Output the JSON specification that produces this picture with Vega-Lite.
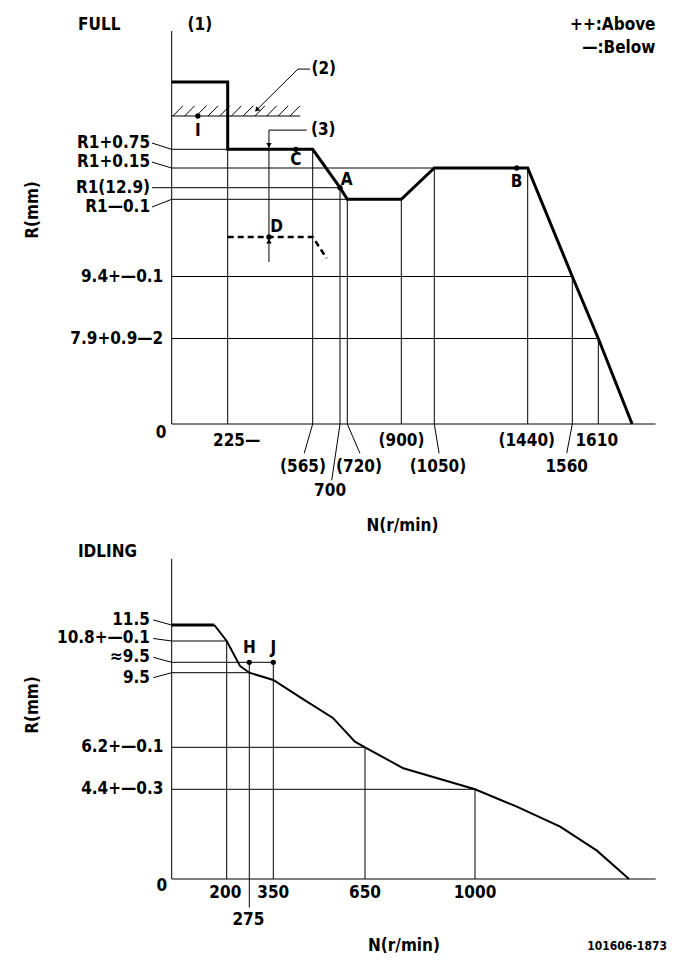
{
  "$schema": "https://vega.github.io/schema/vega-lite/v6.json",
  "width": 681,
  "height": 979,
  "autosize": {"type": "none"},
  "padding": 0,
  "background": "white",
  "config": {"view": {"stroke": null}},
  "datasets": {
    "tCurve": [
      {"i": 0, "n": 0, "r": 15.5}, {"i": 1, "n": 225, "r": 15.5}, {"i": 2, "n": 225, "r": 13.65},
      {"i": 3, "n": 565, "r": 13.65}, {"i": 4, "n": 700, "r": 12.9}, {"i": 5, "n": 720, "r": 12.8},
      {"i": 6, "n": 900, "r": 12.8}, {"i": 7, "n": 1050, "r": 13.05}, {"i": 8, "n": 1440, "r": 13.05},
      {"i": 9, "n": 1560, "r": 9.4}, {"i": 10, "n": 1610, "r": 7.9}, {"i": 11, "n": 1675, "r": 0}
    ],
    "tDash": [
      {"i": 0, "n": 225, "r": 11.14}, {"i": 1, "n": 565, "r": 11.14}, {"i": 2, "n": 634, "r": 10.2}
    ],
    "tRules": [
      {"n": 0, "r": 0, "n2": 0, "r2": 17},
      {"n": 0, "r": 0, "n2": 1720, "r2": 0},
      {"n": 0, "r": 13.65, "n2": 225, "r2": 13.65},
      {"n": 0, "r": 13.05, "n2": 1050, "r2": 13.05},
      {"n": 0, "r": 12.9, "n2": 700, "r2": 12.9},
      {"n": 0, "r": 12.8, "n2": 720, "r2": 12.8},
      {"n": 0, "r": 9.4, "n2": 1560, "r2": 9.4},
      {"n": 0, "r": 7.9, "n2": 1610, "r2": 7.9},
      {"n": 0, "r": 14.5, "n2": 515, "r2": 14.5},
      {"n": 225, "r": 0, "n2": 225, "r2": 13.65},
      {"n": 565, "r": 0, "n2": 565, "r2": 13.65},
      {"n": 700, "r": 0, "n2": 700, "r2": 12.9},
      {"n": 720, "r": 0, "n2": 720, "r2": 12.8},
      {"n": 900, "r": 0, "n2": 900, "r2": 12.8},
      {"n": 1050, "r": 0, "n2": 1050, "r2": 13.05},
      {"n": 1440, "r": 0, "n2": 1440, "r2": 13.05},
      {"n": 1560, "r": 0, "n2": 1560, "r2": 9.4},
      {"n": 1610, "r": 0, "n2": 1610, "r2": 7.9},
      {"n": 390, "r": 14.14, "n2": 390, "r2": 10.04},
      {"n": 390, "r": 14.14, "n2": 541, "r2": 14.14},
      {"n": 341, "r": 14.68, "n2": 506, "r2": 15.88},
      {"n": 506, "r": 15.88, "n2": 554, "r2": 15.88},
      {"n": -79, "r": 13.81, "n2": 0, "r2": 13.65},
      {"n": -79, "r": 13.24, "n2": 0, "r2": 13.05},
      {"n": -79, "r": 12.9, "n2": 0, "r2": 12.9},
      {"n": -79, "r": 12.46, "n2": 0, "r2": 12.8},
      {"n": 565, "r": 0, "n2": 531, "r2": -2.7},
      {"n": 700, "r": 0, "n2": 659, "r2": -5.2},
      {"n": 720, "r": 0, "n2": 762, "r2": -2.7},
      {"n": 1050, "r": 0, "n2": 1070, "r2": -2.7},
      {"n": 1560, "r": 0, "n2": 1545, "r2": -2.7},
      {"n": 5, "r": 14.5, "n2": 45, "r2": 14.8},
      {"n": 52, "r": 14.5, "n2": 92, "r2": 14.8},
      {"n": 99, "r": 14.5, "n2": 139, "r2": 14.8},
      {"n": 146, "r": 14.5, "n2": 186, "r2": 14.8},
      {"n": 193, "r": 14.5, "n2": 233, "r2": 14.8},
      {"n": 240, "r": 14.5, "n2": 280, "r2": 14.8},
      {"n": 287, "r": 14.5, "n2": 327, "r2": 14.8},
      {"n": 334, "r": 14.5, "n2": 374, "r2": 14.8},
      {"n": 381, "r": 14.5, "n2": 421, "r2": 14.8},
      {"n": 427, "r": 14.5, "n2": 467, "r2": 14.8},
      {"n": 474, "r": 14.5, "n2": 514, "r2": 14.8}
    ],
    "tDots": [
      {"n": 105, "r": 14.5}, {"n": 498, "r": 13.65}, {"n": 700, "r": 12.9},
      {"n": 1394, "r": 13.05}, {"n": 390, "r": 11.14}
    ],
    "tArrowDown": [{"n": 390, "r": 13.75}],
    "tArrowUp": [{"n": 390, "r": 10.96}],
    "tArrow2": [{"n": 341, "r": 14.68}],
    "tTextC": [
      {"label": "(1)", "n": 113, "r": 17.18},
      {"label": "I", "n": 105, "r": 14.12},
      {"label": "C", "n": 498, "r": 13.31},
      {"label": "B", "n": 1394, "r": 12.94},
      {"label": "D", "n": 421, "r": 11.59},
      {"label": "A", "n": 718, "r": 12.96},
      {"label": "(565)", "n": 526, "r": -4.0},
      {"label": "700", "n": 651, "r": -6.2},
      {"label": "(720)", "n": 759, "r": -4.0},
      {"label": "(900)", "n": 901, "r": -1.6},
      {"label": "(1050)", "n": 1065, "r": -4.0},
      {"label": "(1440)", "n": 1436, "r": -1.6},
      {"label": "1560", "n": 1545, "r": -4.0},
      {"label": "1610", "n": 1607, "r": -1.6},
      {"label": "0", "n": -43, "r": -0.84},
      {"label": "N(r/min)", "n": 905, "r": -9.4}
    ],
    "tTextL": [
      {"label": "FULL", "n": -376, "r": 17.18},
      {"label": "(2)", "n": 560, "r": 15.88},
      {"label": "(3)", "n": 558, "r": 14.14},
      {"label": "225—", "n": 166, "r": -1.6}
    ],
    "tTextR": [
      {"label": "R1+0.75", "n": -87, "r": 13.81},
      {"label": "R1+0.15", "n": -87, "r": 13.24},
      {"label": "R1(12.9)", "n": -87, "r": 12.9},
      {"label": "R1—0.1", "n": -87, "r": 12.46},
      {"label": "9.4+—0.1", "n": -34, "r": 9.4},
      {"label": "7.9+0.9—2", "n": -34, "r": 7.9},
      {"label": "++:Above", "n": 1720, "r": 17.18},
      {"label": "—:Below", "n": 1720, "r": 16.5}
    ],
    "tTextV": [{"label": "R(mm)", "n": -557, "r": 12.33}],
    "bCurveThick": [{"i": 0, "n": 0, "r": 11.5}, {"i": 1, "n": 155, "r": 11.5}],
    "bCurve": [
      {"i": 0, "n": 155, "r": 11.5}, {"i": 1, "n": 200, "r": 10.8}, {"i": 2, "n": 244, "r": 9.76},
      {"i": 3, "n": 275, "r": 9.5}, {"i": 4, "n": 350, "r": 9.18}, {"i": 5, "n": 437, "r": 8.42},
      {"i": 6, "n": 545, "r": 7.5}, {"i": 7, "n": 617, "r": 6.45}, {"i": 8, "n": 650, "r": 6.2},
      {"i": 9, "n": 772, "r": 5.3}, {"i": 10, "n": 1000, "r": 4.4}, {"i": 11, "n": 1133, "r": 3.55},
      {"i": 12, "n": 1271, "r": 2.57}, {"i": 13, "n": 1388, "r": 1.39}, {"i": 14, "n": 1490, "r": 0}
    ],
    "bRules": [
      {"n": 0, "r": 0, "n2": 0, "r2": 14.4},
      {"n": 0, "r": 0, "n2": 1575, "r2": 0},
      {"n": 0, "r": 10.8, "n2": 200, "r2": 10.8},
      {"n": 0, "r": 9.9, "n2": 350, "r2": 9.9},
      {"n": 0, "r": 9.5, "n2": 275, "r2": 9.5},
      {"n": 0, "r": 6.2, "n2": 650, "r2": 6.2},
      {"n": 0, "r": 4.4, "n2": 1000, "r2": 4.4},
      {"n": 200, "r": 0, "n2": 200, "r2": 10.8},
      {"n": 275, "r": -1.4, "n2": 275, "r2": 9.9},
      {"n": 350, "r": 0, "n2": 350, "r2": 9.9},
      {"n": 650, "r": 0, "n2": 650, "r2": 6.2},
      {"n": 1000, "r": 0, "n2": 1000, "r2": 4.4},
      {"n": -67, "r": 11.72, "n2": 0, "r2": 11.5},
      {"n": -67, "r": 10.91, "n2": 0, "r2": 10.8},
      {"n": -67, "r": 10.11, "n2": 0, "r2": 9.9},
      {"n": -67, "r": 9.28, "n2": 0, "r2": 9.5}
    ],
    "bDots": [{"n": 275, "r": 9.9}, {"n": 350, "r": 9.9}],
    "bTextC": [
      {"label": "H", "n": 275, "r": 10.5},
      {"label": "J", "n": 350, "r": 10.5},
      {"label": "200", "n": 195, "r": -0.7},
      {"label": "350", "n": 350, "r": -0.7},
      {"label": "275", "n": 272, "r": -2.0},
      {"label": "650", "n": 650, "r": -0.7},
      {"label": "1000", "n": 1000, "r": -0.7},
      {"label": "0", "n": -36, "r": -0.35},
      {"label": "N(r/min)", "n": 774, "r": -3.3}
    ],
    "bTextL": [{"label": "IDLING", "n": -341, "r": 14.7}],
    "bTextR": [
      {"label": "11.5", "n": -79, "r": 11.72},
      {"label": "10.8+—0.1", "n": -79, "r": 10.91},
      {"label": "≈9.5", "n": -79, "r": 10.11},
      {"label": "9.5", "n": -79, "r": 9.28},
      {"label": "6.2+—0.1", "n": -30, "r": 6.2},
      {"label": "4.4+—0.3", "n": -30, "r": 4.4}
    ],
    "bTextV": [{"label": "R(mm)", "n": -505, "r": 8.07}],
    "bFooter": [{"label": "101606-1873", "n": 1484, "r": -3.3}]
  },
  "layer": [
    {
      "layer": [
        {"data": {"name": "tRules"}, "mark": {"type": "rule", "color": "black", "strokeWidth": 1},
         "encoding": {
           "x": {"field": "n", "type": "quantitative", "axis": null, "scale": {"domain": [0,225,565,700,720,900,1050,1440,1560,1610], "range": [171.7,227.7,312.7,340,347.3,401.3,434.3,527.7,572.3,598.3], "zero": false, "nice": false}},
           "y": {"field": "r", "type": "quantitative", "axis": null, "scale": {"domain": [0,7.9,9.4,12.8,12.9,13.05,13.65,14.5,15.5], "range": [424,338.5,276.5,199.3,187.7,168,149.3,116,82], "zero": false, "nice": false}},
           "x2": {"field": "n2"}, "y2": {"field": "r2"}}},
        {"data": {"name": "tCurve"}, "mark": {"type": "line", "color": "black", "strokeWidth": 3, "strokeJoin": "miter"},
         "encoding": {"x": {"field": "n", "type": "quantitative"}, "y": {"field": "r", "type": "quantitative"}, "order": {"field": "i", "type": "quantitative"}}},
        {"data": {"name": "tDash"}, "mark": {"type": "line", "color": "black", "strokeWidth": 2.5, "strokeDash": [6, 4]},
         "encoding": {"x": {"field": "n", "type": "quantitative"}, "y": {"field": "r", "type": "quantitative"}, "order": {"field": "i", "type": "quantitative"}}},
        {"data": {"name": "tDots"}, "mark": {"type": "point", "filled": true, "color": "black", "opacity": 1, "size": 28},
         "encoding": {"x": {"field": "n", "type": "quantitative"}, "y": {"field": "r", "type": "quantitative"}}},
        {"data": {"name": "tArrowDown"}, "mark": {"type": "point", "shape": "triangle-down", "filled": true, "color": "black", "opacity": 1, "size": 30},
         "encoding": {"x": {"field": "n", "type": "quantitative"}, "y": {"field": "r", "type": "quantitative"}}},
        {"data": {"name": "tArrowUp"}, "mark": {"type": "point", "shape": "triangle-up", "filled": true, "color": "black", "opacity": 1, "size": 30},
         "encoding": {"x": {"field": "n", "type": "quantitative"}, "y": {"field": "r", "type": "quantitative"}}},
        {"data": {"name": "tArrow2"}, "mark": {"type": "point", "shape": "triangle-down", "angle": 45, "filled": true, "color": "black", "opacity": 1, "size": 30},
         "encoding": {"x": {"field": "n", "type": "quantitative"}, "y": {"field": "r", "type": "quantitative"}}},
        {"data": {"name": "tTextC"}, "mark": {"type": "text", "align": "center", "baseline": "middle", "font": "Liberation Sans Narrow, DejaVu Sans Condensed, Liberation Sans, sans-serif", "fontSize": 17, "fontWeight": "bold", "color": "black"},
         "encoding": {"x": {"field": "n", "type": "quantitative"}, "y": {"field": "r", "type": "quantitative"}, "text": {"field": "label"}}},
        {"data": {"name": "tTextL"}, "mark": {"type": "text", "align": "left", "baseline": "middle", "font": "Liberation Sans Narrow, DejaVu Sans Condensed, Liberation Sans, sans-serif", "fontSize": 17, "fontWeight": "bold", "color": "black"},
         "encoding": {"x": {"field": "n", "type": "quantitative"}, "y": {"field": "r", "type": "quantitative"}, "text": {"field": "label"}}},
        {"data": {"name": "tTextR"}, "mark": {"type": "text", "align": "right", "baseline": "middle", "font": "Liberation Sans Narrow, DejaVu Sans Condensed, Liberation Sans, sans-serif", "fontSize": 17, "fontWeight": "bold", "color": "black"},
         "encoding": {"x": {"field": "n", "type": "quantitative"}, "y": {"field": "r", "type": "quantitative"}, "text": {"field": "label"}}},
        {"data": {"name": "tTextV"}, "mark": {"type": "text", "align": "center", "baseline": "middle", "angle": 270, "font": "Liberation Sans Narrow, DejaVu Sans Condensed, Liberation Sans, sans-serif", "fontSize": 17, "fontWeight": "bold", "color": "black"},
         "encoding": {"x": {"field": "n", "type": "quantitative"}, "y": {"field": "r", "type": "quantitative"}, "text": {"field": "label"}}}
      ]
    },
    {
      "layer": [
        {"data": {"name": "bRules"}, "mark": {"type": "rule", "color": "black", "strokeWidth": 1},
         "encoding": {
           "x": {"field": "n", "type": "quantitative", "axis": null, "scale": {"domain": [0,200,275,350,650,1000], "range": [171.7,226.7,249.3,273.3,365,475], "zero": false, "nice": false}},
           "y": {"field": "r", "type": "quantitative", "axis": null, "scale": {"domain": [0,4.4,6.2,9.5,9.9,10.8,11.5], "range": [879,789.3,747.3,672.7,662.3,641,625], "zero": false, "nice": false}},
           "x2": {"field": "n2"}, "y2": {"field": "r2"}}},
        {"data": {"name": "bCurveThick"}, "mark": {"type": "line", "color": "black", "strokeWidth": 3},
         "encoding": {"x": {"field": "n", "type": "quantitative"}, "y": {"field": "r", "type": "quantitative"}, "order": {"field": "i", "type": "quantitative"}}},
        {"data": {"name": "bCurve"}, "mark": {"type": "line", "color": "black", "strokeWidth": 2},
         "encoding": {"x": {"field": "n", "type": "quantitative"}, "y": {"field": "r", "type": "quantitative"}, "order": {"field": "i", "type": "quantitative"}}},
        {"data": {"name": "bDots"}, "mark": {"type": "point", "filled": true, "color": "black", "opacity": 1, "size": 28},
         "encoding": {"x": {"field": "n", "type": "quantitative"}, "y": {"field": "r", "type": "quantitative"}}},
        {"data": {"name": "bTextC"}, "mark": {"type": "text", "align": "center", "baseline": "middle", "font": "Liberation Sans Narrow, DejaVu Sans Condensed, Liberation Sans, sans-serif", "fontSize": 17, "fontWeight": "bold", "color": "black"},
         "encoding": {"x": {"field": "n", "type": "quantitative"}, "y": {"field": "r", "type": "quantitative"}, "text": {"field": "label"}}},
        {"data": {"name": "bTextL"}, "mark": {"type": "text", "align": "left", "baseline": "middle", "font": "Liberation Sans Narrow, DejaVu Sans Condensed, Liberation Sans, sans-serif", "fontSize": 17, "fontWeight": "bold", "color": "black"},
         "encoding": {"x": {"field": "n", "type": "quantitative"}, "y": {"field": "r", "type": "quantitative"}, "text": {"field": "label"}}},
        {"data": {"name": "bTextR"}, "mark": {"type": "text", "align": "right", "baseline": "middle", "font": "Liberation Sans Narrow, DejaVu Sans Condensed, Liberation Sans, sans-serif", "fontSize": 17, "fontWeight": "bold", "color": "black"},
         "encoding": {"x": {"field": "n", "type": "quantitative"}, "y": {"field": "r", "type": "quantitative"}, "text": {"field": "label"}}},
        {"data": {"name": "bTextV"}, "mark": {"type": "text", "align": "center", "baseline": "middle", "angle": 270, "font": "Liberation Sans Narrow, DejaVu Sans Condensed, Liberation Sans, sans-serif", "fontSize": 17, "fontWeight": "bold", "color": "black"},
         "encoding": {"x": {"field": "n", "type": "quantitative"}, "y": {"field": "r", "type": "quantitative"}, "text": {"field": "label"}}},
        {"data": {"name": "bFooter"}, "mark": {"type": "text", "align": "center", "baseline": "middle", "font": "Liberation Sans Narrow, DejaVu Sans Condensed, Liberation Sans, sans-serif", "fontSize": 12, "fontWeight": "bold", "color": "black"},
         "encoding": {"x": {"field": "n", "type": "quantitative"}, "y": {"field": "r", "type": "quantitative"}, "text": {"field": "label"}}}
      ]
    }
  ],
  "resolve": {"scale": {"x": "independent", "y": "independent"}}
}
